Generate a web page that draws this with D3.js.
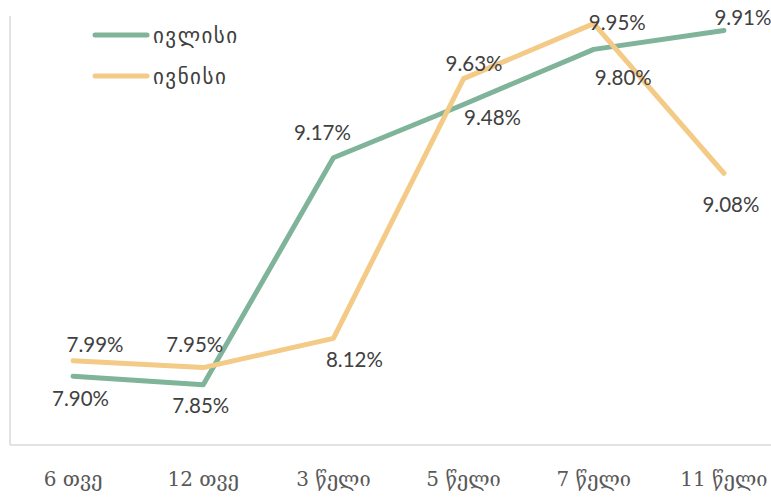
<!DOCTYPE html>
<meta charset="utf-8">
<head>
	<title>Rates</title>
	<script src="https://d3js.org/d3.v7.min.js"></script>
	<style>
		body { margin: 0; background: #fff; overflow: hidden; }
	</style>
</head>
<body>
<script>
	// data
	const categories = ['6 თვე', '12 თვე', '3 წელი', '5 წელი', '7 წელი', '11 წელი'];
	const seriesNames = ['ივლისი', 'ივნისი'];
	const julyValues = [7.90, 7.85, 9.17, 9.48, 9.80, 9.91];
	const juneValues = [7.99, 7.95, 8.12, 9.63, 9.95, 9.08];
	// label placement per point (baseline offset from point): [dx, dy]
	const julyLabelOffsets = [[7.5, 30], [-2.5, 28], [-11, -18], [29, 20.5], [29.5, 35.5], [19, -5.5]];
	const juneLabelOffsets = [[22, -9], [-8.5, -15.5], [21, 28.5], [10.5, -7.5], [23.5, 6.5], [7, 38.5]];

	const width = 771, height = 497;
	const colors = ['#7fb39a', '#f3ca86'];

	const svg = d3.select('body').append('svg')
		.attr('width', width)
		.attr('height', height);

	const x = d3.scalePoint()
		.domain(categories)
		.range([8, 789])
		.padding(0.5);

	const y = d3.scaleLinear()
		.domain([7.5, 10])
		.range([445, 15]);

	// axes frame
	svg.append('line')
		.attr('x1', 10).attr('x2', width)
		.attr('y1', y(7.5)).attr('y2', y(7.5))
		.attr('stroke', '#d9d9d9').attr('stroke-width', 1.5);
	svg.append('line')
		.attr('x1', 10).attr('x2', 10)
		.attr('y1', y(7.5)).attr('y2', 16)
		.attr('stroke', '#d9d9d9').attr('stroke-width', 1.5);

	// x labels
	svg.append('g')
		.selectAll('text')
		.data(categories)
		.enter().append('text')
			.attr('x', d => x(d))
			.attr('y', 486)
			.attr('text-anchor', 'middle')
			.style('font-family', '"DejaVu Serif", serif')
			.style('font-size', '20px')
			.style('fill', '#595959')
			.text(d => d);

	const line = d3.line()
		.x((d, i) => x(categories[i]))
		.y(d => y(d));

	const series = [
		{name: seriesNames[0], values: julyValues, offsets: julyLabelOffsets, color: colors[0]},
		{name: seriesNames[1], values: juneValues, offsets: juneLabelOffsets, color: colors[1]}
	];

	series.forEach(s => {
		svg.append('path')
			.datum(s.values)
			.attr('d', line)
			.attr('fill', 'none')
			.attr('stroke', s.color)
			.attr('stroke-width', 5)
			.attr('stroke-linejoin', 'round')
			.attr('stroke-linecap', 'round');
	});

	series.forEach(s => {
		svg.append('g')
			.selectAll('text')
			.data(s.values)
			.enter().append('text')
				.attr('x', (d, i) => x(categories[i]) + s.offsets[i][0])
				.attr('y', (d, i) => y(d) + s.offsets[i][1])
				.attr('text-anchor', 'middle')
				.style('font-family', 'Lato, "Open Sans", sans-serif')
				.style('font-size', '20.5px')
				.style('fill', '#404040')
				.text(d => d.toFixed(2) + '%');
	});

	// legend
	const legend = svg.append('g')
		.selectAll('g')
		.data(series)
		.enter().append('g')
			.attr('transform', (d, i) => `translate(95, ${35 + i * 41})`);
	legend.append('line')
		.attr('x1', 0).attr('x2', 52)
		.attr('stroke', d => d.color)
		.attr('stroke-width', 5)
		.attr('stroke-linecap', 'round');
	legend.append('text')
		.attr('x', 58)
		.attr('y', 8)
		.style('font-family', '"DejaVu Sans", sans-serif')
		.style('font-size', '21px')
		.style('letter-spacing', '1.5px')
		.style('fill', '#404040')
		.text(d => d.name);
</script>
</body>
</html>
